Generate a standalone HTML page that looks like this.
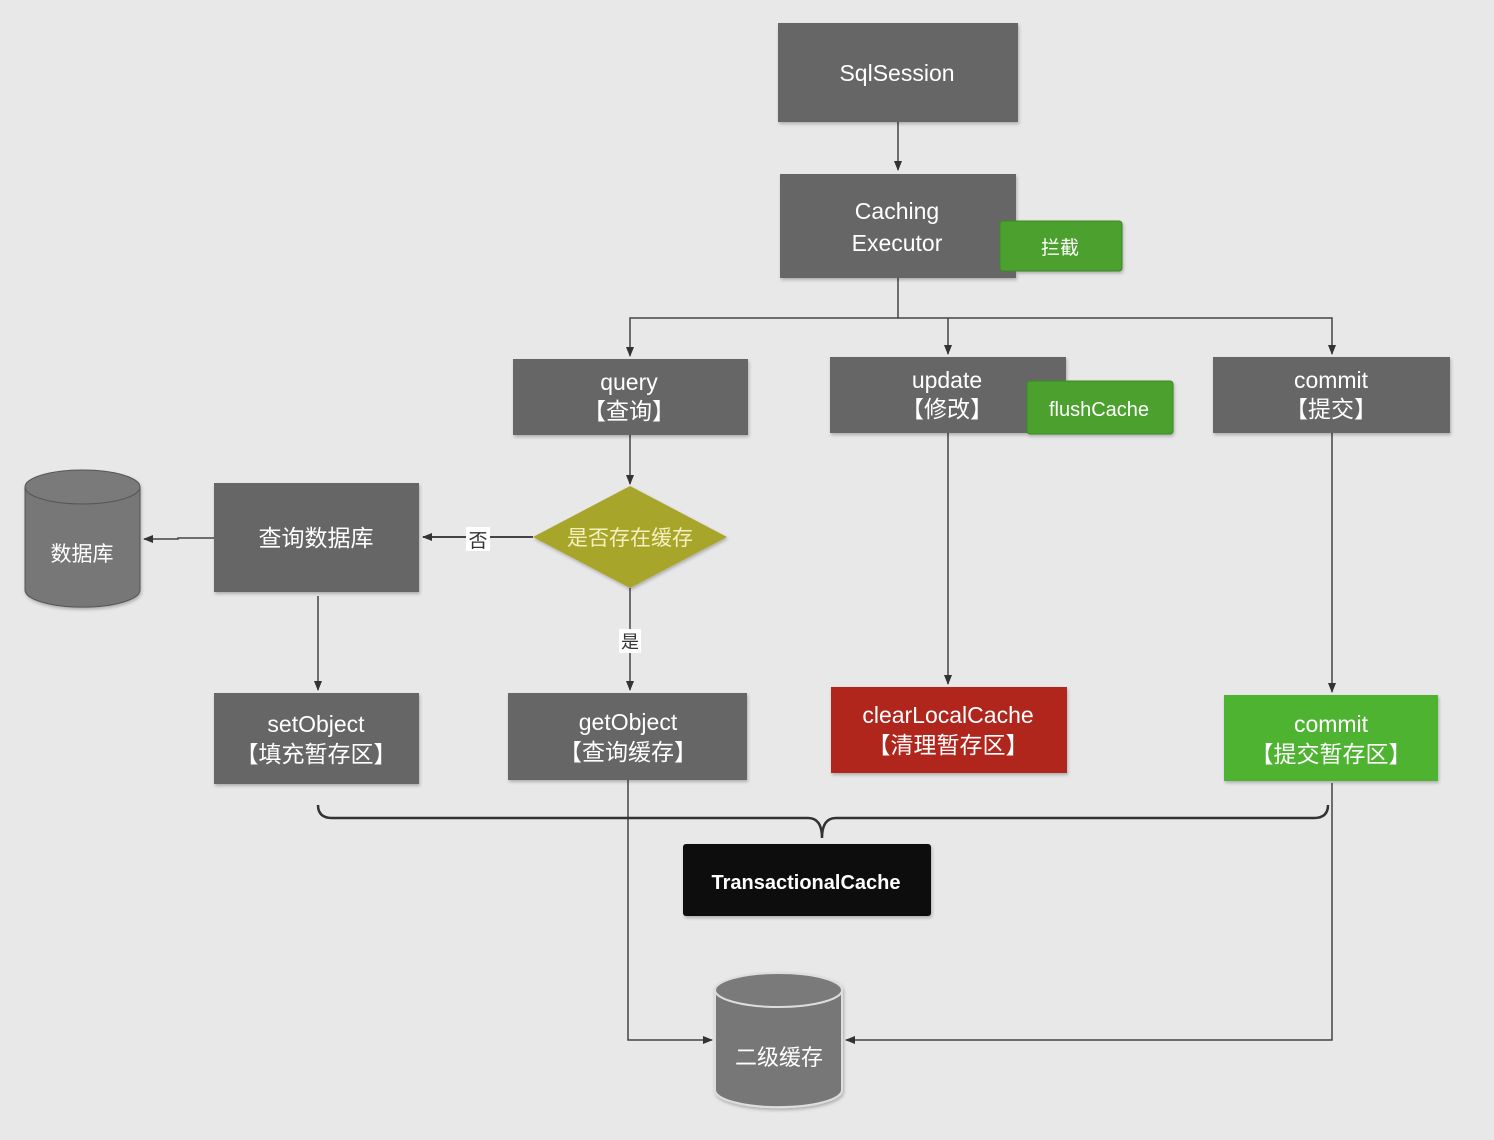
<!DOCTYPE html>
<html><head><meta charset="utf-8"><style>
html,body{margin:0;padding:0;background:#e8e8e8;}
svg{display:block;}
text{font-family:"Liberation Sans","Noto Sans CJK SC",sans-serif;fill:#fff;text-anchor:middle;}
</style></head><body>
<svg width="1494" height="1140" viewBox="0 0 1494 1140" xmlns="http://www.w3.org/2000/svg">
<defs>
<marker id="a" markerWidth="10" markerHeight="10" refX="9" refY="5" orient="auto" markerUnits="userSpaceOnUse"><path d="M0,1 L10,5 L0,9 z" fill="#333"/></marker>
<filter id="s" x="-10%" y="-10%" width="130%" height="130%"><feDropShadow dx="1" dy="2" stdDeviation="1.5" flood-color="#000" flood-opacity="0.25"/></filter>
</defs>
<rect width="1494" height="1140" fill="#e8e8e8"/>
<g stroke="#444" stroke-width="1.5" fill="none">
<line x1="898" y1="122" x2="898" y2="170" marker-end="url(#a)"/>
<polyline points="898,278 898,318 630,318 630,356" marker-end="url(#a)"/>
<polyline points="898,318 1332,318 1332,354" marker-end="url(#a)"/>
<line x1="948" y1="318" x2="948" y2="354" marker-end="url(#a)"/>
<line x1="630" y1="435" x2="630" y2="484" marker-end="url(#a)"/>
<line x1="533" y1="537" x2="423" y2="537" marker-end="url(#a)" stroke-width="2"/>
<polyline points="214,538 178,538 178,539 144,539" marker-end="url(#a)"/>
<line x1="318" y1="596" x2="318" y2="690" marker-end="url(#a)"/>
<line x1="630" y1="588" x2="630" y2="690" marker-end="url(#a)"/>
<line x1="948" y1="433" x2="948" y2="684" marker-end="url(#a)"/>
<line x1="1332" y1="433" x2="1332" y2="692" marker-end="url(#a)"/>
<polyline points="628,780 628,1040 712,1040" marker-end="url(#a)"/>
<polyline points="1332,783 1332,1040 846,1040" marker-end="url(#a)"/>
<path d="M318,805 Q318,818 332,818 L808,818 Q822,818 822,838 Q822,818 836,818 L1314,818 Q1328,818 1328,805" stroke="#333" stroke-width="2.5"/>
</g>
<g filter="url(#s)">
<rect x="778" y="23" width="240" height="99" fill="#666"/>
<rect x="780" y="174" width="236" height="104" fill="#666"/>
<rect x="1000" y="221" width="122" height="50" rx="3" fill="#4ba02f" stroke="#3a8a22"/>
<rect x="513" y="359" width="235" height="76" fill="#666"/>
<rect x="830" y="357" width="236" height="76" fill="#666"/>
<rect x="1027" y="381" width="146" height="53" rx="3" fill="#4ba02f" stroke="#3a8a22"/>
<rect x="1213" y="357" width="237" height="76" fill="#666"/>
<polygon points="630,486 727,537 630,588 533,537" fill="#a8a62a"/>
<rect x="214" y="483" width="205" height="109" fill="#666"/>
<rect x="214" y="693" width="205" height="91" fill="#666"/>
<rect x="508" y="693" width="239" height="87" fill="#666"/>
<rect x="831" y="687" width="236" height="86" fill="#b0281b"/>
<rect x="1224" y="695" width="214" height="86" fill="#4fb332"/>
<rect x="683" y="844" width="248" height="72" rx="3" fill="#111"/>
<path d="M25,487 L25,590 A57,17 0 0 0 140,590 L140,487 Z" fill="#777" stroke="#555"/>
<ellipse cx="82.5" cy="487" rx="57.5" ry="17" fill="#7a7a7a" stroke="#555"/>
<path d="M715,990 L715,1090 A63,17 0 0 0 842,1090 L842,990 Z" fill="#777" stroke="#ddd" stroke-width="2"/>
<ellipse cx="778.5" cy="990" rx="63.5" ry="17" fill="#7a7a7a" stroke="#ddd" stroke-width="2"/>
</g>
<rect x="466" y="527" width="24" height="24" fill="#fff"/>
<text x="478" y="547" font-size="19" style="fill:#333">否</text>
<rect x="619" y="629" width="22" height="24" fill="#fff"/>
<text x="630" y="648" font-size="18" style="fill:#333">是</text>
<g font-size="23">
<text x="897" y="81">SqlSession</text>
<text x="897" y="219">Caching</text>
<text x="897" y="251">Executor</text>
<text x="1060" y="254" font-size="19">拦截</text>
<text x="629" y="390">query</text>
<text x="629" y="419">【查询】</text>
<text x="947" y="388">update</text>
<text x="947" y="417">【修改】</text>
<text x="1099" y="416" font-size="20">flushCache</text>
<text x="1331" y="388">commit</text>
<text x="1331" y="417">【提交】</text>
<text x="630" y="545" font-size="21" style="fill:#f4f0c0">是否存在缓存</text>
<text x="316" y="546">查询数据库</text>
<text x="82" y="561" font-size="21">数据库</text>
<text x="316" y="732">setObject</text>
<text x="316" y="762">【填充暂存区】</text>
<text x="628" y="730">getObject</text>
<text x="628" y="760">【查询缓存】</text>
<text x="948" y="723">clearLocalCache</text>
<text x="948" y="753">【清理暂存区】</text>
<text x="1331" y="732">commit</text>
<text x="1331" y="762">【提交暂存区】</text>
<text x="806" y="889" font-size="20" font-weight="bold">TransactionalCache</text>
<text x="779" y="1065" font-size="22">二级缓存</text>
</g>
</svg>
</body></html>
